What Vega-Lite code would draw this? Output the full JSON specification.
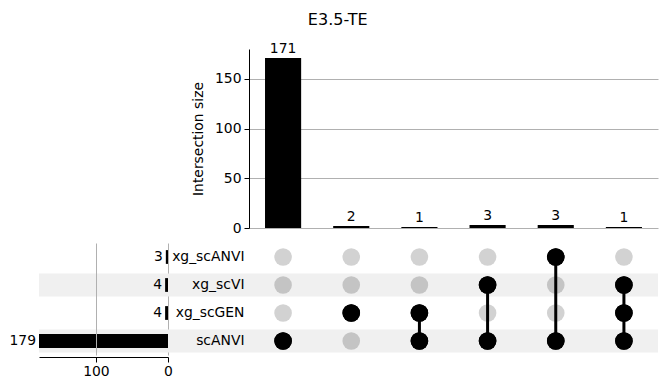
{
  "$schema": "https://vega.github.io/schema/vega-lite/v6.json",
  "padding": {"left": 9, "top": 11, "right": 10, "bottom": 5},
  "title": {"text": "E3.5-TE", "fontSize": 16, "fontWeight": "normal", "color": "black", "anchor": "middle", "frame": "bounds", "offset": 14, "dx": 4, "font": "DejaVu Sans"},
  "config": {
    "font": "DejaVu Sans",
    "view": {"stroke": null},
    "axis": {"labelFont": "DejaVu Sans", "titleFont": "DejaVu Sans", "labelFontSize": 13.9, "titleFontSize": 13.9, "titleFontWeight": "normal", "labelColor": "black", "titleColor": "black", "domainColor": "black", "tickColor": "black", "gridColor": "#b0b0b0"}
  },
  "datasets": {
    "inter": [
      {"i": 1, "size": 171},
      {"i": 2, "size": 2},
      {"i": 3, "size": 1},
      {"i": 4, "size": 3},
      {"i": 5, "size": 3},
      {"i": 6, "size": 1}
    ],
    "sets": [
      {"set": "xg_scANVI", "n": 3, "shade": 0},
      {"set": "xg_scVI", "n": 4, "shade": 1},
      {"set": "xg_scGEN", "n": 4, "shade": 0},
      {"set": "scANVI", "n": 179, "shade": 1}
    ],
    "cells": [
      {"i": 1, "set": "xg_scANVI", "state": "out"},
      {"i": 1, "set": "xg_scVI", "state": "out_s"},
      {"i": 1, "set": "xg_scGEN", "state": "out"},
      {"i": 1, "set": "scANVI", "state": "in"},
      {"i": 2, "set": "xg_scANVI", "state": "out"},
      {"i": 2, "set": "xg_scVI", "state": "out_s"},
      {"i": 2, "set": "xg_scGEN", "state": "in"},
      {"i": 2, "set": "scANVI", "state": "out_s"},
      {"i": 3, "set": "xg_scANVI", "state": "out"},
      {"i": 3, "set": "xg_scVI", "state": "out_s"},
      {"i": 3, "set": "xg_scGEN", "state": "in"},
      {"i": 3, "set": "scANVI", "state": "in"},
      {"i": 4, "set": "xg_scANVI", "state": "out"},
      {"i": 4, "set": "xg_scVI", "state": "in"},
      {"i": 4, "set": "xg_scGEN", "state": "out"},
      {"i": 4, "set": "scANVI", "state": "in"},
      {"i": 5, "set": "xg_scANVI", "state": "in"},
      {"i": 5, "set": "xg_scVI", "state": "out_s"},
      {"i": 5, "set": "xg_scGEN", "state": "out"},
      {"i": 5, "set": "scANVI", "state": "in"},
      {"i": 6, "set": "xg_scANVI", "state": "out"},
      {"i": 6, "set": "xg_scVI", "state": "in"},
      {"i": 6, "set": "xg_scGEN", "state": "in"},
      {"i": 6, "set": "scANVI", "state": "in"}
    ],
    "links": [
      {"i": 3, "from": "xg_scGEN", "to": "scANVI"},
      {"i": 4, "from": "xg_scVI", "to": "scANVI"},
      {"i": 5, "from": "xg_scANVI", "to": "scANVI"},
      {"i": 6, "from": "xg_scVI", "to": "scANVI"}
    ]
  },
  "bounds": "flush",
  "spacing": {"row": 15, "column": 0},
  "columns": 3,
  "concat": [
    {
      "width": 129,
      "height": 179,
      "data": {"name": "inter"},
      "mark": {"type": "text", "opacity": 0},
      "encoding": {"text": {"value": ""}}
    },
    {
      "width": 81,
      "height": 179,
      "data": {"name": "inter"},
      "mark": {"type": "text", "opacity": 0},
      "encoding": {"text": {"value": ""}}
    },
    {
      "width": 409,
      "height": 179,
      "data": {"name": "inter"},
      "encoding": {
        "x": {"field": "i", "type": "ordinal", "scale": {"paddingInner": 0.47, "paddingOuter": 0.235}, "axis": null}
      },
      "layer": [
        {
          "mark": {"type": "bar", "color": "black"},
          "encoding": {
            "y": {"field": "size", "type": "quantitative", "scale": {"domain": [0, 180], "nice": false},
              "axis": {"title": "Intersection size", "values": [0, 50, 100, 150], "grid": true, "tickSize": 5, "labelPadding": 3, "titlePadding": 9}}
          }
        },
        {
          "mark": {"type": "text", "baseline": "bottom", "dy": -2, "fontSize": 13.9, "color": "black"},
          "encoding": {
            "y": {"field": "size", "type": "quantitative"},
            "text": {"field": "size", "type": "quantitative"}
          }
        }
      ]
    },
    {
      "width": 129,
      "height": 112,
      "data": {"name": "sets"},
      "encoding": {
        "y": {"field": "set", "type": "nominal", "scale": {"domain": ["xg_scANVI", "xg_scVI", "xg_scGEN", "scANVI"], "paddingInner": 0.18, "paddingOuter": 0.09}, "axis": null}
      },
      "layer": [
        {
          "transform": [{"filter": "datum.shade == 1"}],
          "mark": {"type": "rect", "color": "#f0f0f0"},
          "encoding": {"x": {"value": 0}, "x2": {"value": "width"}}
        },
        {
          "mark": {"type": "bar", "color": "black", "height": {"band": 0.6}},
          "encoding": {
            "x": {"field": "n", "type": "quantitative", "scale": {"domain": [0, 179], "reverse": true, "nice": false},
              "axis": {"orient": "bottom", "values": [0, 100], "grid": true, "offset": 2, "tickSize": 5, "labelPadding": 2, "title": null, "zindex": 1, "labelFlush": false}}
          }
        },
        {
          "mark": {"type": "text", "align": "right", "dx": -3, "fontSize": 13.9, "color": "black"},
          "encoding": {
            "x": {"field": "n", "type": "quantitative"},
            "text": {"field": "n", "type": "quantitative"}
          }
        }
      ]
    },
    {
      "width": 81,
      "height": 112,
      "data": {"name": "sets"},
      "transform": [{"filter": "datum.shade == 1"}],
      "mark": {"type": "rect", "color": "#f0f0f0"},
      "encoding": {
        "y": {"field": "set", "type": "nominal", "scale": {"domain": ["xg_scANVI", "xg_scVI", "xg_scGEN", "scANVI"], "paddingInner": 0.18, "paddingOuter": 0.09}, "axis": null},
        "x": {"value": 0},
        "x2": {"value": "width"}
      }
    },
    {
      "width": 409,
      "height": 112,
      "encoding": {
        "x": {"field": "i", "type": "ordinal", "scale": {"domain": [1, 2, 3, 4, 5, 6], "paddingInner": 0.47, "paddingOuter": 0.235}, "axis": null},
        "y": {"field": "set", "type": "nominal", "scale": {"domain": ["xg_scANVI", "xg_scVI", "xg_scGEN", "scANVI"], "paddingInner": 0.18, "paddingOuter": 0.09},
          "axis": {"orient": "left", "ticks": false, "domain": false, "labelPadding": 5, "title": null}}
      },
      "layer": [
        {
          "data": {"name": "sets"},
          "transform": [{"filter": "datum.shade == 1"}],
          "mark": {"type": "rect", "color": "#f0f0f0"},
          "encoding": {"x": {"value": 0}, "x2": {"value": "width"}}
        },
        {
          "data": {"name": "cells"},
          "mark": {"type": "circle", "size": 310, "opacity": 1},
          "encoding": {
            "color": {"field": "state", "type": "nominal", "scale": {"domain": ["in", "out", "out_s"], "range": ["black", "#d2d2d2", "#c4c4c4"]}, "legend": null}
          }
        },
        {
          "data": {"name": "links"},
          "mark": {"type": "rule", "strokeWidth": 3, "color": "black"},
          "encoding": {
            "y": {"field": "from", "type": "nominal"},
            "y2": {"field": "to"}
          }
        },
        {
          "data": {"name": "cells"},
          "transform": [{"filter": "datum.state == 'in'"}],
          "mark": {"type": "circle", "size": 310, "color": "black", "opacity": 1},
          "encoding": {}
        }
      ]
    }
  ]
}
